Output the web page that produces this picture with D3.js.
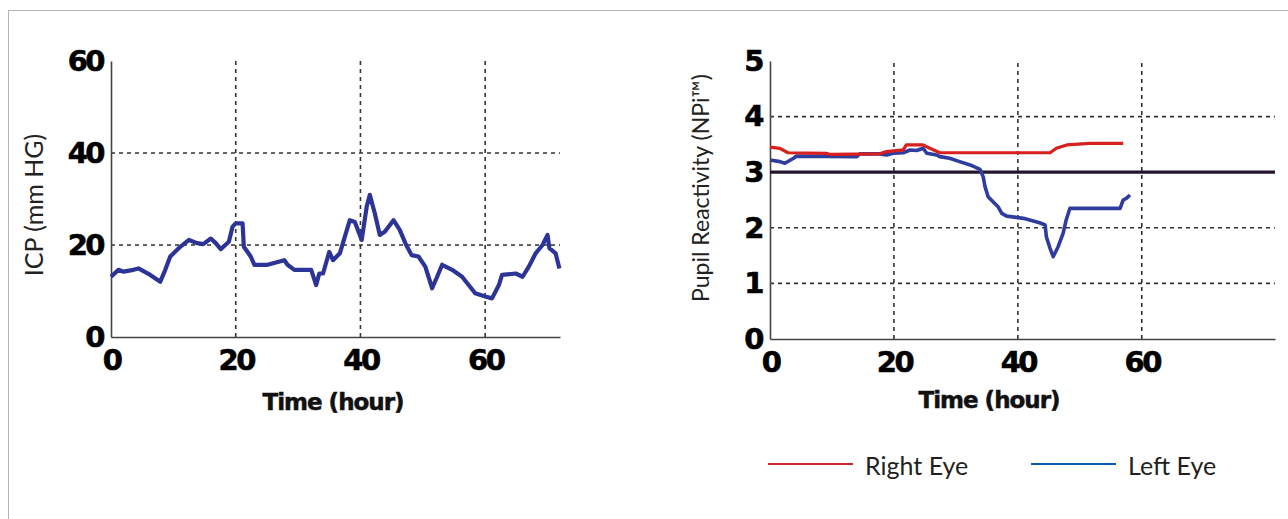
<!DOCTYPE html>
<html><head><meta charset="utf-8">
<script src="https://cdn.jsdelivr.net/npm/d3@7"></script>
<style>
html,body{margin:0;padding:0;background:#fff;}
svg{display:block;}
.tick text{font-family:"DejaVu Sans",sans-serif;font-weight:bold;font-size:29px;fill:#000;letter-spacing:-2.5px;stroke:#000;stroke-width:0.6px;}
</style></head>
<body><svg id="c" width="1288" height="519"></svg>
<script>
// ICP chart data (hours, mm HG)
const icpTime = [0,1.2,2,3.6,4.4,6.3,7.9,8.7,9.5,11.1,12.5,13.8,14.8,16,16.8,17.6,18.9,19.5,20,21.1,21.3,22.4,23,25.1,27.8,28.3,29.4,32.1,32.9,33.4,34,35,35.6,36.7,37.5,38.3,39.1,40.2,41,41.5,42.3,43.1,43.9,45.3,46.3,47.2,48.2,49.3,50.4,51.5,52.3,53.1,54.7,56.3,58.4,60,61.1,62.2,62.7,64.9,66,67,68.1,69.2,70,70.3,71.3,71.9];
const icpValue = [13.1,14.6,14.2,14.6,14.9,13.5,12.0,14.6,17.5,19.6,21.1,20.4,20.2,21.4,20.4,19.1,20.7,24,24.7,24.7,19.6,17.5,15.7,15.7,16.7,15.7,14.6,14.6,11.3,13.8,13.8,18.5,16.7,18.2,21.8,25.4,25,21.1,28.3,30.9,26.9,22.2,22.9,25.4,23.3,20.4,17.8,17.5,15.3,10.6,13.1,15.7,14.6,13.1,9.5,8.8,8.4,11.3,13.5,13.8,13.1,15.3,18.2,20,22.2,19.3,18.2,14.9];
const icpTicksY = [0,20,40,60];
const timeTicks = [0,20,40,60];

// Pupil reactivity data (hours, NPi)
const rightTime = [0,1.6,2.9,9.1,9.7,17.7,18.8,21.5,22,24.7,25.8,27.4,45.2,46.2,47.9,51.6,57];
const rightValue = [3.45,3.43,3.35,3.34,3.32,3.33,3.37,3.40,3.49,3.49,3.43,3.35,3.35,3.43,3.49,3.52,3.52];
const leftTime = [0,1.6,2.4,3.8,4.3,14,14.5,17.7,18.8,19.9,21.5,22.6,23.7,24.7,25.3,26.9,27.4,29,30.6,32.3,33.9,34.4,34.7,35.2,36,36.8,37.4,38.2,40.9,43.5,44.4,44.6,45.2,45.7,46.5,47.3,47.8,48.4,56.5,57,57.5,58.1];
const leftValue = [3.22,3.19,3.16,3.25,3.29,3.28,3.33,3.33,3.31,3.34,3.35,3.40,3.39,3.43,3.34,3.31,3.28,3.25,3.19,3.13,3.05,2.92,2.74,2.56,2.47,2.38,2.26,2.21,2.17,2.09,2.05,1.84,1.63,1.48,1.66,1.90,2.14,2.35,2.35,2.50,2.53,2.59];
const npiThreshold = [3];
const npiTicksY = [0,1,2,3,4,5];
const legendLabels = ["Right Eye","Left Eye"];

const svg = d3.select("#c");

// outer frame
svg.append("rect").attr("x",8.5).attr("y",10.5).attr("width",1300).attr("height",520)
  .attr("fill","none").attr("stroke","#b5b5b5").attr("stroke-width",1);

function panel(opts){
  const g = svg.append("g");
  const x = d3.scaleLinear().domain(opts.xDomain).range(opts.xRange);
  const y = d3.scaleLinear().domain(opts.yDomain).range(opts.yRange);
  const [x0,x1] = opts.xRange, [y0,y1] = opts.yRange;
  g.append("g").selectAll("line").data(opts.hGrid).join("line")
    .attr("x1",x0).attr("x2",x1).attr("y1",d=>y(d)).attr("y2",d=>y(d))
    .attr("stroke","#333").attr("stroke-width",1.6).attr("stroke-dasharray","4,4");
  g.append("g").selectAll("line").data(opts.vGrid).join("line")
    .attr("x1",d=>x(d)).attr("x2",d=>x(d)).attr("y1",y0).attr("y2",y1)
    .attr("stroke","#333").attr("stroke-width",1.6).attr("stroke-dasharray","4,4");
  const ax = g.append("g").attr("transform",`translate(0,${y0})`)
    .call(d3.axisBottom(x).tickValues(opts.xTicks).tickFormat(d3.format("d")).tickSize(0).tickPadding(12).tickSizeOuter(0));
  ax.select(".domain").attr("stroke","#444").attr("stroke-width",1.6);
  const ay = g.append("g").attr("transform",`translate(${x0},0)`)
    .call(d3.axisLeft(y).tickValues(opts.yTicks).tickFormat(d3.format("d")).tickSize(0).tickPadding(8).tickSizeOuter(0));
  ay.select(".domain").attr("stroke","#444").attr("stroke-width",1.6);
  return {g,x,y};
}

// Left panel: ICP
const L = panel({xDomain:[0,72],xRange:[111,560],yDomain:[0,60],yRange:[337,61],
  hGrid:[20,40],vGrid:[20,40,60],xTicks:timeTicks,yTicks:icpTicksY});
L.g.append("path").datum(icpTime.map((t,i)=>[t,icpValue[i]]))
  .attr("d",d3.line().x(d=>L.x(d[0])).y(d=>L.y(d[1])))
  .attr("fill","none").attr("stroke","#2c3597").attr("stroke-width",4.2).attr("stroke-linejoin","round");

// Right panel: NPi
const R = panel({xDomain:[0,81.5],xRange:[770,1275],yDomain:[0,5],yRange:[339,61],
  hGrid:[1,2,4],vGrid:[20,40,60],xTicks:timeTicks,yTicks:npiTicksY});
R.g.append("g").selectAll("line").data(npiThreshold).join("line")
  .attr("x1",R.x(0)).attr("x2",1275).attr("y1",d=>R.y(d)).attr("y2",d=>R.y(d))
  .attr("stroke","#24162e").attr("stroke-width",3.2);
R.g.append("path").datum(leftTime.map((t,i)=>[t,leftValue[i]]))
  .attr("d",d3.line().x(d=>R.x(d[0])).y(d=>R.y(d[1])))
  .attr("fill","none").attr("stroke","#2f3d9f").attr("stroke-width",3.6).attr("stroke-linejoin","round");
R.g.append("path").datum(rightTime.map((t,i)=>[t,rightValue[i]]))
  .attr("d",d3.line().x(d=>R.x(d[0])).y(d=>R.y(d[1])))
  .attr("fill","none").attr("stroke","#d8201e").attr("stroke-width",3.2).attr("stroke-linejoin","round");

function txt(x,y,s,attrs,rot){
  const t = svg.append("text").attr("x",x).attr("y",y).attr("text-anchor","middle").attr("dominant-baseline","central").text(s);
  for(const k in attrs) t.attr(k,attrs[k]);
  if(rot) t.attr("transform",`rotate(-90,${x},${y})`);
  return t;
}
const xt = {"font-family":"DejaVu Sans","font-weight":"bold","font-size":"23px","letter-spacing":"-1px","fill":"#111","stroke":"#111","stroke-width":0.5};
txt(333,402,"Time (hour)",xt);
txt(989,400,"Time (hour)",xt);
txt(33,205,"ICP (mm HG)",{"font-family":"Lato","font-size":"25px","fill":"#222"},true);
txt(700,188,"Pupil Reactivity (NPi™)",{"font-family":"Lato","font-size":"23px","fill":"#222"},true);

// legend
const legColors = ["#d9262b","#0a5cb5"];
const legX = [768,1031];
const lg = svg.append("g");
legendLabels.forEach((lab,i)=>{
  lg.append("line").attr("x1",legX[i]).attr("x2",legX[i]+85).attr("y1",464).attr("y2",464)
    .attr("stroke",legColors[i]).attr("stroke-width",2.2);
  lg.append("text").attr("x",legX[i]+97).attr("y",465).attr("dominant-baseline","central")
    .attr("font-family","Lato").attr("font-size","25px").attr("fill","#231f20").text(lab);
});
</script></body></html>
